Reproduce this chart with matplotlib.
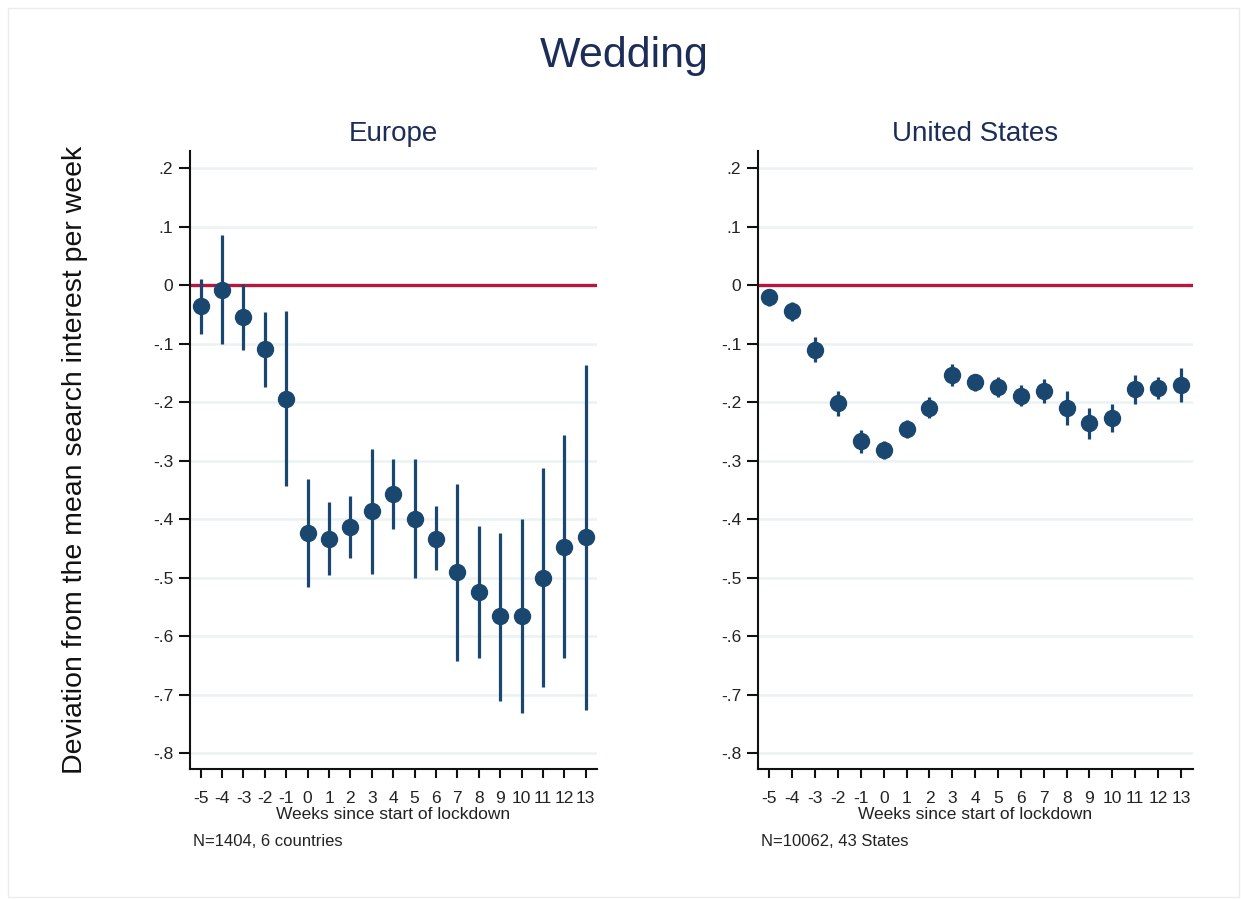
import numpy as np
import matplotlib
matplotlib.use("Agg")
import matplotlib.pyplot as plt
from matplotlib.patches import Rectangle

plt.rcParams['font.family'] = ['Liberation Sans', 'DejaVu Sans']

weeks = list(range(-5, 14))
week_labels = [str(w) for w in weeks]

# Europe: estimate, lower CI, upper CI
eu_est = [-0.036, -0.008, -0.055, -0.109, -0.194, -0.424, -0.433, -0.413, -0.386, -0.356,
          -0.399, -0.433, -0.491, -0.524, -0.566, -0.566, -0.500, -0.447, -0.431]
eu_lo = [-0.083, -0.101, -0.110, -0.174, -0.344, -0.515, -0.496, -0.466, -0.493, -0.416,
         -0.501, -0.487, -0.642, -0.637, -0.710, -0.732, -0.687, -0.637, -0.726]
eu_hi = [0.011, 0.086, 0.002, -0.045, -0.044, -0.332, -0.370, -0.360, -0.280, -0.297,
         -0.297, -0.378, -0.339, -0.412, -0.424, -0.400, -0.313, -0.256, -0.136]

# United States
us_est = [-0.020, -0.044, -0.110, -0.202, -0.266, -0.281, -0.246, -0.209, -0.154, -0.165,
          -0.174, -0.189, -0.181, -0.210, -0.236, -0.227, -0.178, -0.175, -0.171]
us_lo = [-0.036, -0.061, -0.132, -0.223, -0.286, -0.297, -0.261, -0.227, -0.173, -0.180,
         -0.191, -0.207, -0.202, -0.239, -0.262, -0.250, -0.203, -0.194, -0.200]
us_hi = [-0.006, -0.028, -0.088, -0.181, -0.248, -0.266, -0.230, -0.191, -0.135, -0.151,
         -0.157, -0.171, -0.161, -0.181, -0.210, -0.203, -0.153, -0.157, -0.141]

y_ticks = [0.2, 0.1, 0, -0.1, -0.2, -0.3, -0.4, -0.5, -0.6, -0.7, -0.8]
y_labels = ['.2', '.1', '0', '-.1', '-.2', '-.3', '-.4', '-.5', '-.6', '-.7', '-.8']

panels = [("Europe", eu_est, eu_lo, eu_hi, "N=1404, 6 countries", (190, 597)),
          ("United States", us_est, us_lo, us_hi, "N=10062, 43 States", (758, 1193))]

W, H = 1241, 899
fig = plt.figure(figsize=(W / 100, H / 100), dpi=100)
fig.add_artist(Rectangle((8 / W, 2 / H), 1231 / W, 889 / H, transform=fig.transFigure,
                         fill=False, edgecolor='#ececec', linewidth=1))

navy = '#1a476f'
title_col = '#1c2d59'
top_px, bot_px = 151, 769

for name, est, lo, hi, note, (x0, x1) in panels:
    ax = fig.add_axes([x0 / W, 1 - bot_px / H, (x1 - x0) / W, (bot_px - top_px) / H])
    est = np.array(est)
    yerr = [est - np.array(lo), np.array(hi) - est]
    ax.axhline(0, color='#b5173f', lw=2.4, zorder=2)
    ax.errorbar(weeks, est, yerr=yerr, fmt='o', color=navy, ms=11.5, elinewidth=2.3,
                capsize=0, zorder=3)
    ax.set_xlim(-5.5, 13.53)
    ax.set_ylim(-0.827, 0.2296)
    ax.set_yticks(y_ticks)
    ax.set_yticklabels(y_labels, fontsize=12.5, color='#222222')
    ax.set_xticks(weeks)
    ax.set_xticklabels(week_labels, fontsize=12.5, color='#222222')
    ax.grid(axis='y', color='#eaf2f3', lw=1.8)
    ax.set_axisbelow(True)
    for s in ['top', 'right']:
        ax.spines[s].set_visible(False)
    for s in ['left', 'bottom']:
        ax.spines[s].set_linewidth(1.5)
        ax.spines[s].set_color('#111111')
    ax.tick_params(axis='both', width=1.5, color='#111111')
    ax.tick_params(axis='x', length=6.5, pad=9)
    ax.tick_params(axis='y', length=8, pad=4)
    ax.set_xlabel('Weeks since start of lockdown', fontsize=12.5, labelpad=1, color='#222222')
    ax.set_title(name, fontsize=20, color=title_col, pad=7)
    fig.text((x0 + 3) / W, 1 - 842 / H, note, fontsize=12, va='center', ha='left',
             color='#222222')

fig.text(624 / W, 1 - 56 / H, 'Wedding', fontsize=31, color=title_col, ha='center', va='center')
fig.text(75 / W, 1 - 460 / H, 'Deviation from the mean search interest per week', fontsize=20.5,
         rotation=90, ha='center', va='center', color='#111111')

fig.savefig('out.png', dpi=100, facecolor='white')
